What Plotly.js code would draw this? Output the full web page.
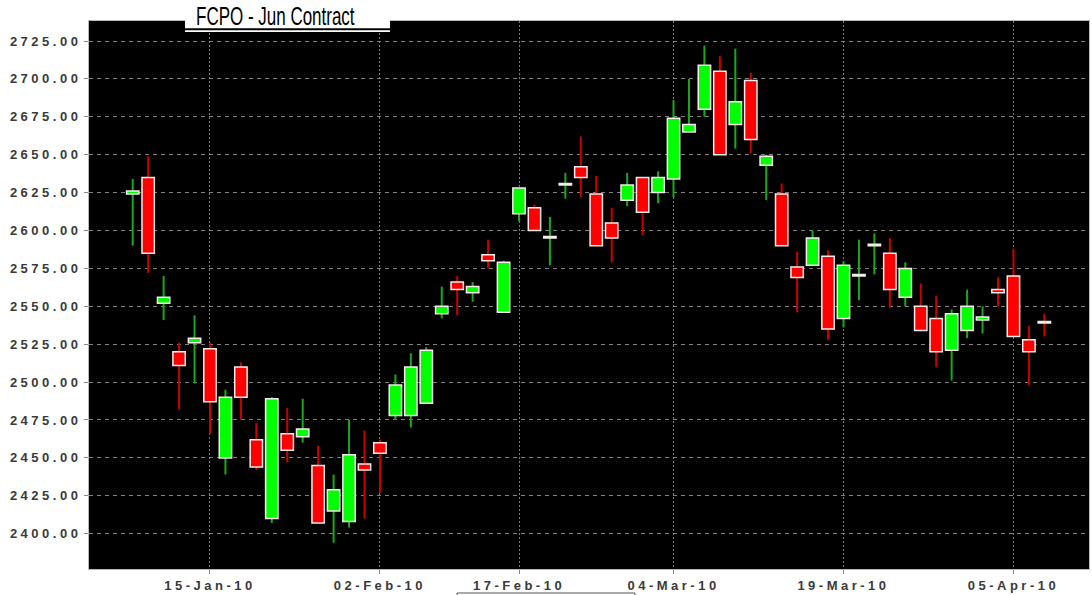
<!DOCTYPE html>
<html>
<head>
<meta charset="utf-8">
<script src="https://cdn.plot.ly/plotly-3.0.1.min.js"></script>
<style>
  html, body { margin: 0; padding: 0; background: #ffffff; }
  #chart { width: 1092px; height: 595px; }
  .xtick text, .ytick text { letter-spacing: 3.5px; }
  .annotation-text { transform-box: fill-box; transform-origin: center; transform: scaleX(0.68); }
</style>
</head>
<body>
<div id="chart"></div>
<script>
// Trading dates (categories)
const dates = [
  "08-Jan-10","11-Jan-10","12-Jan-10","13-Jan-10","14-Jan-10","15-Jan-10",
  "18-Jan-10","19-Jan-10","20-Jan-10","21-Jan-10","22-Jan-10",
  "25-Jan-10","26-Jan-10","27-Jan-10","28-Jan-10","29-Jan-10",
  "02-Feb-10","03-Feb-10","04-Feb-10","05-Feb-10",
  "08-Feb-10","09-Feb-10","10-Feb-10","11-Feb-10","12-Feb-10",
  "17-Feb-10","18-Feb-10","19-Feb-10",
  "22-Feb-10","23-Feb-10","24-Feb-10","25-Feb-10",
  "01-Mar-10","02-Mar-10","03-Mar-10","04-Mar-10","05-Mar-10",
  "08-Mar-10","09-Mar-10","10-Mar-10","11-Mar-10","12-Mar-10",
  "15-Mar-10","16-Mar-10","17-Mar-10","18-Mar-10","19-Mar-10",
  "22-Mar-10","23-Mar-10","24-Mar-10","25-Mar-10","26-Mar-10",
  "29-Mar-10","30-Mar-10","31-Mar-10","01-Apr-10","02-Apr-10",
  "05-Apr-10","06-Apr-10","07-Apr-10"
];
const openP = [
  2624,2635,2552,2520,2526,2522,
  2450,2510,2462,2410,2466,
  2464,2445,2415,2408,2446,
  2460,2478,2478,2486,
  2545,2566,2559,2584,2546,
  2611,2615,2595,
  2630,2642,2624,2605,
  2620,2635,2625,2634,2665,
  2680,2705,2670,2699,2643,
  2624,2576,2577,2583,2542,
  2570,2590,2585,2556,2550,
  2542,2521,2534,2541,2561,
  2570,2528,2540
];
const highP = [
  2634,2649,2570,2526,2544,2526,
  2495,2513,2473,2490,2483,
  2489,2458,2439,2475,2468,
  2462,2505,2519,2523,
  2563,2570,2566,2594,2580,
  2628,2617,2609,
  2638,2662,2636,2615,
  2638,2635,2639,2686,2700,
  2722,2715,2720,2704,2650,
  2631,2586,2600,2587,2580,
  2594,2598,2595,2579,2565,
  2557,2548,2561,2550,2569,
  2588,2537,2545
];
const lowP = [
  2590,2572,2541,2482,2499,2466,
  2439,2475,2442,2407,2447,
  2460,2407,2394,2404,2410,
  2427,2475,2470,2486,
  2542,2544,2553,2575,2546,
  2606,2600,2577,
  2621,2622,2590,2579,
  2616,2597,2618,2622,2665,
  2675,2650,2654,2651,2620,
  2590,2546,2577,2528,2536,
  2554,2571,2549,2550,2534,
  2510,2501,2529,2532,2550,
  2530,2498,2530
];
const closeP = [
  2626,2585,2556,2511,2529,2487,
  2490,2490,2444,2489,2455,
  2469,2407,2429,2452,2442,
  2453,2498,2510,2521,
  2550,2561,2563,2580,2579,
  2628,2600,2596,
  2631,2635,2590,2595,
  2630,2612,2635,2674,2670,
  2709,2650,2685,2660,2649,
  2590,2569,2595,2535,2577,
  2571,2591,2561,2575,2534,
  2520,2545,2550,2543,2559,
  2530,2520,2539
];
const tickDates = ["15-Jan-10","02-Feb-10","17-Feb-10","04-Mar-10","19-Mar-10","05-Apr-10"];
const titleText = "FCPO - Jun Contract";

// Derived per-candle values for drawing
const up = closeP.map((c, i) => c >= openP[i]);
const wickColor = up.map(u => u ? "#1aa81a" : "#cc0000");
const bodyColor = up.map(u => u ? "#00ff00" : "#ff0000");
const bodyBase = openP.map((o, i) => Math.min(o, closeP[i]));
const bodySize = openP.map((o, i) => Math.abs(closeP[i] - o));
const wickSize = highP.map((h, i) => h - lowP[i]);

const wicks = {
  type: "bar", x: dates, base: lowP, y: wickSize, width: 0.13,
  marker: { color: wickColor, line: { width: 0 } },
  hoverinfo: "skip", showlegend: false
};
const bodies = {
  type: "bar", x: dates, base: bodyBase, y: bodySize, width: 0.8,
  marker: { color: bodyColor, line: { color: "#f6eaea", width: 1.5 } },
  hoverinfo: "skip", showlegend: false
};

const tickFont = { family: "Arial, 'Liberation Sans', sans-serif", size: 13, color: "#3a3a3a", weight: "bold" };

const layout = {
  width: 1092, height: 595,
  margin: { l: 89, r: 3, t: 21, b: 26, pad: 0 },
  paper_bgcolor: "#ffffff",
  plot_bgcolor: "#000000",
  barmode: "overlay",
  showlegend: false,
  xaxis: {
    type: "category",
    range: [-2.83, 61.89],
    tickmode: "array",
    tickvals: tickDates,
    ticktext: tickDates,
    ticks: "outside", ticklen: 4, tickcolor: "#888888",
    tickfont: tickFont,
    showgrid: true, gridcolor: "#7a7a7a", gridwidth: 1, griddash: "2px,2px",
    showline: true, linecolor: "#b8b8b8", linewidth: 1, mirror: true,
    zeroline: false, fixedrange: true
  },
  yaxis: {
    range: [2376.7, 2738.2],
    tick0: 2400, dtick: 25, tickformat: ".2f",
    ticks: "outside", ticklen: 4, tickcolor: "#888888",
    tickfont: tickFont,
    showgrid: true, gridcolor: "#808080", gridwidth: 1, griddash: "4px,4px",
    showline: true, linecolor: "#b8b8b8", linewidth: 1, mirror: true,
    zeroline: false, fixedrange: true
  },
  shapes: [
    { type: "rect", xref: "paper", yref: "paper", x0: 0.096, x1: 0.301, y0: 0.9800, y1: 1.05,
      fillcolor: "#ffffff", line: { width: 0 }, layer: "above" },
    { type: "line", xref: "paper", yref: "paper", x0: 0.096, x1: 0.301, y0: 0.9850, y1: 0.9850,
      line: { color: "#000000", width: 2 }, layer: "above" },
    { type: "rect", xref: "paper", yref: "paper", x0: 0.368, x1: 0.546, y0: -0.0438, y1: -0.08,
      fillcolor: "rgba(0,0,0,0)", line: { color: "#555555", width: 1 }, layer: "above" }
  ],
  annotations: [
    { text: titleText, xref: "paper", yref: "paper", x: 0.186, y: 1.008,
      xanchor: "center", yanchor: "middle", showarrow: false,
      font: { family: "Arial, 'Liberation Sans', sans-serif", size: 25, color: "#000000" } }
  ]
};

Plotly.newPlot("chart", [wicks, bodies], layout, { staticPlot: true, displayModeBar: false });
</script>
</body>
</html>
